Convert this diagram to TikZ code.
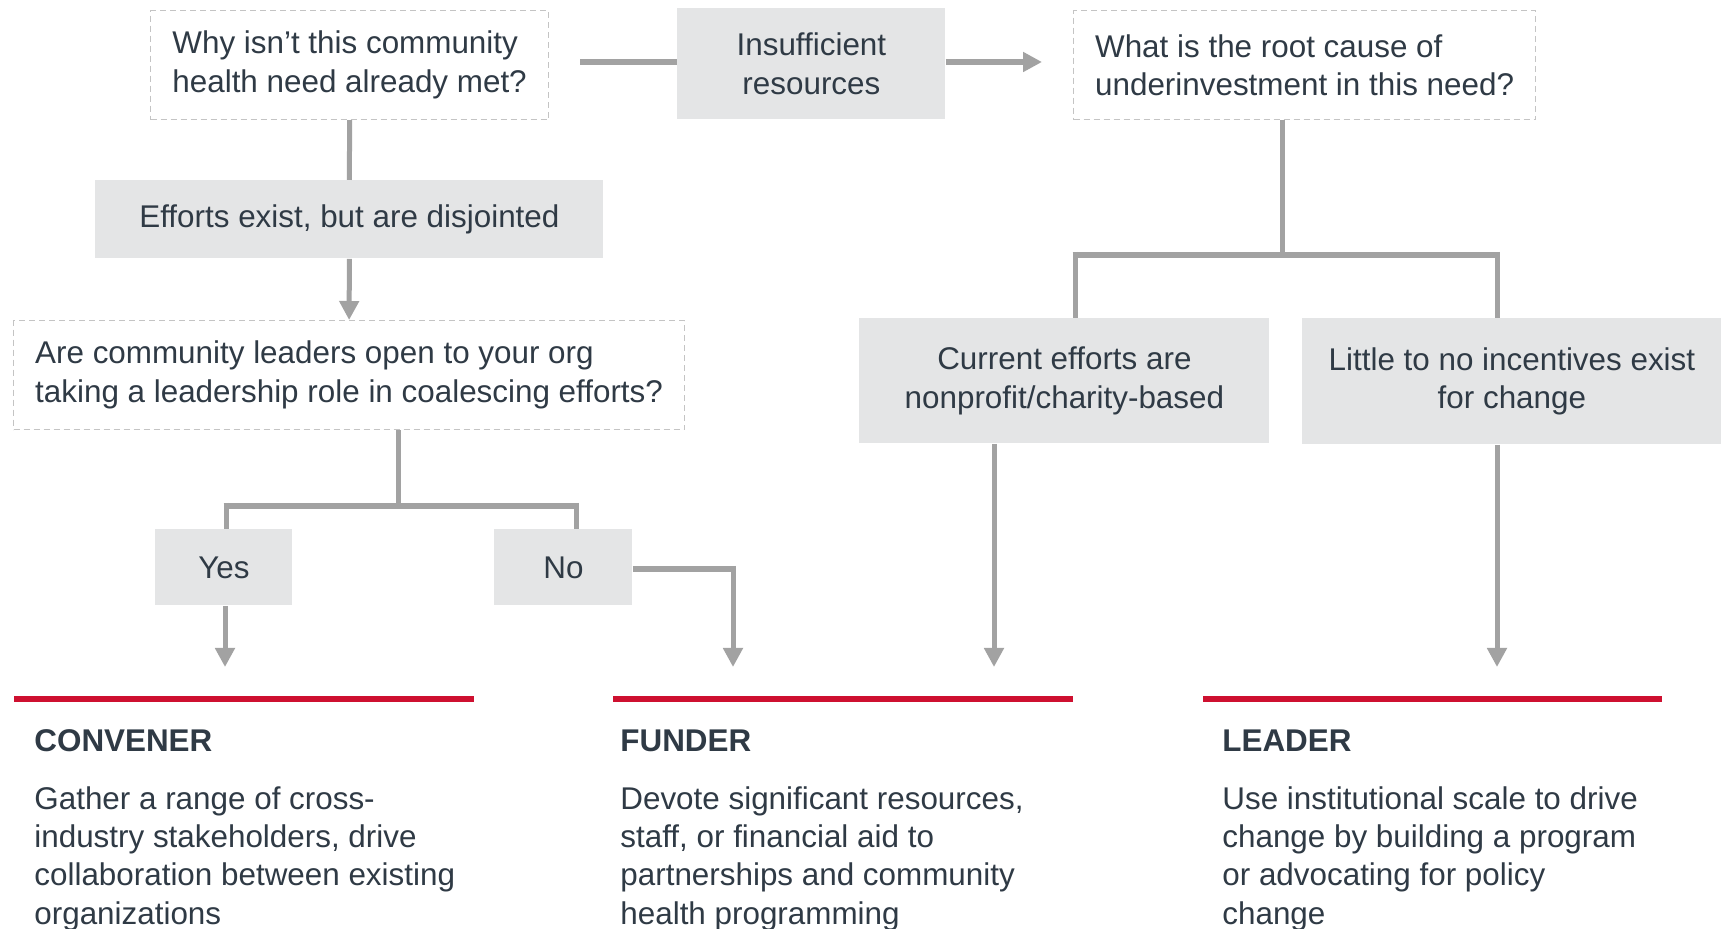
\documentclass[tikz,border=0pt]{standalone}
\usepackage{fontspec}
\setmainfont{Liberation Sans}
\usetikzlibrary{arrows.meta}
\definecolor{boxgray}{HTML}{E4E5E6}
\definecolor{linegray}{HTML}{A2A2A2}
\definecolor{dashgray}{HTML}{C4C4C4}
\definecolor{txt}{HTML}{2F3A45}
\definecolor{rolered}{HTML}{CE1030}
\begin{document}
\begin{tikzpicture}[x=0.5pt,y=-0.5pt,
  every node/.style={font=\fontsize{15.7pt}{19.3pt}\selectfont, text=txt},
  graybox/.style={fill=boxgray, align=center, inner sep=0pt, anchor=north west},
  qbox/.style={draw=dashgray, dash pattern=on 3pt off 2pt, line width=0.6pt, align=left, inner sep=0pt, anchor=north west},
  hline/.style={draw=linegray, line width=3pt},
  vline/.style={draw=linegray, line width=2.5pt},
  arr/.style={-{Triangle[width=9.5pt,length=9.5pt]}},
  redbar/.style={draw=rolered, line width=3pt},
  head/.style={font=\bfseries\fontsize{15.7pt}{19.3pt}\selectfont, anchor=base west, inner sep=0pt},
  body/.style={anchor=north west, inner sep=0pt, align=left, font=\fontsize{15.7pt}{19.2pt}\selectfont}
]
\fill[white] (0,0) rectangle (1729,929);
\useasboundingbox (0,0) rectangle (1729,929);

% boxes
\node[qbox, minimum width=199pt, minimum height=54.5pt] (q1) at (150,10) {Why isn’t this community\\health need already met?};
\node[graybox, minimum width=134pt, minimum height=55.5pt] (ins) at (677,8) {Insufficient\\resources};
\node[qbox, minimum width=231pt, minimum height=54.5pt] (q3) at (1073,10) {What is the root cause of\\underinvestment in this need?};
\node[graybox, minimum width=254pt, minimum height=39pt] (eff) at (95,180) {Efforts exist, but are disjointed};
\node[qbox, minimum width=335.5pt, minimum height=54.5pt] (q2) at (13,320) {Are community leaders open to your org\\taking a leadership role in coalescing efforts?};
\node[graybox, minimum width=68.5pt, minimum height=38pt] (yes) at (155,529) {Yes};
\node[graybox, minimum width=69pt, minimum height=38pt] (no) at (494,529) {No};
\node[graybox, minimum width=205pt, minimum height=62.5pt] (cur) at (859,318) {Current efforts are\\nonprofit/charity-based};
\node[graybox, minimum width=209.5pt, minimum height=63pt] (lit) at (1302,318) {Little to no incentives exist\\for change};

% connectors top row
\coordinate (tl) at (0,62);
\draw[hline, shorten <=15.5pt] (q1.east |- tl) -- (ins.west |- tl);
\draw[hline, arr, shorten >=15.5pt] (ins.east |- tl) -- (q3.west |- tl);

% left branch
\draw[vline] (q1.south) -- (eff.north);
\draw[vline, arr] (eff.south) -- (q2.north);
\coordinate (b1) at (398,506);
\coordinate (yb) at (226,506);
\coordinate (nb) at (576,506);
\draw[vline] (q2.south -| b1) -- (b1);
\draw[hline] ([xshift=-1.25pt]yb) -- ([xshift=1.25pt]nb);
\draw[vline] ([yshift=1.5pt]yb) -- (yb |- yes.north);
\draw[vline] ([yshift=1.5pt]nb) -- (nb |- no.north);
\coordinate (ye) at (225,667);
\draw[vline, arr] (yes.south -| ye) -- (ye);
\coordinate (nc) at (733,569);
\coordinate (ne) at (733,667);
\draw[hline] (no.east |- nc) -- ([xshift=1.25pt]nc);
\draw[vline, arr] ([yshift=1.5pt]nc) -- (ne);

% right branch
\coordinate (r1) at (1282,255);
\coordinate (rl) at (1075,255);
\coordinate (rr) at (1497,255);
\draw[vline] (q3.south -| r1) -- (r1);
\draw[hline] ([xshift=-1.25pt]rl) -- ([xshift=1.25pt]rr);
\draw[vline] ([yshift=1.5pt]rl) -- (rl |- cur.north);
\draw[vline] ([yshift=1.5pt]rr) -- (rr |- lit.north);
\coordinate (ce) at (994,667);
\draw[vline, arr] (cur.south -| ce) -- (ce);
\coordinate (le) at (1497,667);
\draw[vline, arr] (lit.south -| le) -- (le);

% role bars
\draw[redbar] (14,699) -- (474,699);
\draw[redbar] (613,699) -- (1073,699);
\draw[redbar] (1203,699) -- (1662,699);

% roles
\node[head] (hc) at (34,752) {CONVENER};
\node[head] (hf) at (620,752) {FUNDER};
\node[head] (hl) at (1222,752) {LEADER};
\node[body] (bc) at (34,786) {Gather a range of cross-\\industry stakeholders, drive\\collaboration between existing\\organizations};
\node[body] (bf) at (620,786) {Devote significant resources,\\staff, or financial aid to\\partnerships and community\\health programming};
\node[body] (bl) at (1222,786) {Use institutional scale to drive\\change by building a program\\or advocating for policy\\change};
\end{tikzpicture}
\end{document}
